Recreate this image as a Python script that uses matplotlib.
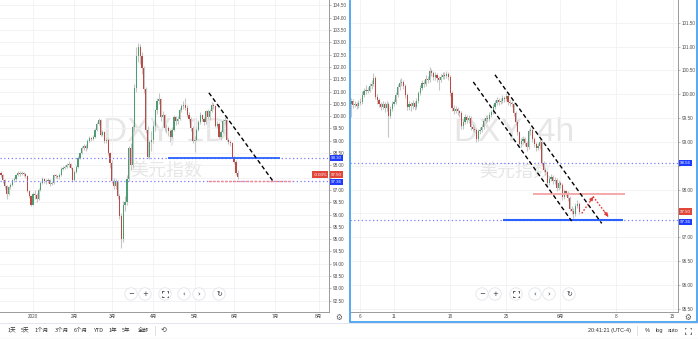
import matplotlib
matplotlib.use("Agg")
import matplotlib.pyplot as plt
from matplotlib.ticker import MultipleLocator, FuncFormatter
from matplotlib.patches import Circle, Rectangle

plt.rcParams['font.family'] = ['Liberation Sans', 'Noto Sans CJK SC', 'DejaVu Sans']

# ---------------- data: daily DXY (left panel) ----------------
left_first_open = 97.70
left_close = [97.60, 97.40, 97.15, 96.85, 97.10, 97.20, 97.40, 97.45, 97.60, 97.70,
              97.65, 97.70, 97.65, 97.55, 96.95, 96.75, 96.40,
              96.85, 96.80, 96.65, 97.00, 97.30, 97.45, 97.35, 97.38, 97.40, 97.25,
              97.30, 97.60, 97.55, 97.52, 97.60, 97.85, 97.90, 97.95, 98.00, 98.05, 97.90, 97.40,
              97.75, 97.95, 98.30, 98.50, 98.70, 98.80, 98.70, 99.00, 99.10, 99.08,
              99.15, 99.45, 99.70, 99.85, 99.25, 99.35, 99.00, 99.05, 98.50, 98.10,
              97.35, 97.15, 97.35, 96.75, 95.95, 95.00, 96.40, 96.50, 97.45, 98.70, 98.00,
              99.55, 101.15, 102.45, 102.80, 102.45, 101.95, 101.10, 99.45, 98.35, 98.95, 99.05,
              99.60, 100.25, 100.60, 100.70, 99.95, 100.05, 99.50, 99.52, 99.40, 99.15, 99.45,
              99.95, 99.80, 99.90, 100.25, 100.40, 100.45, 100.35, 100.05, 99.90, 99.50, 99.00,
              99.05, 99.45, 99.75, 100.05, 99.90, 99.75, 100.20, 99.95, 100.20, 100.45, 100.40,
              99.60, 99.70, 99.15, 99.35, 99.80, 99.85, 99.05, 98.95, 98.90, 98.35,
              98.15, 97.70, 97.52]
left_high = [97.78, 97.66, 97.45, 97.20, 97.18, 97.28, 97.46, 97.52, 97.66, 97.78,
             97.76, 97.76, 97.74, 97.70, 97.60, 97.00, 96.80,
             96.92, 96.98, 96.88, 97.06, 97.36, 97.52, 97.50, 97.45, 97.48, 97.46,
             97.36, 97.66, 97.66, 97.62, 97.68, 97.92, 97.98, 98.02, 98.08, 98.18, 98.10, 97.95,
             97.80, 98.02, 98.36, 98.56, 98.78, 98.88, 98.85, 99.06, 99.18, 99.16,
             99.22, 99.52, 99.76, 99.92, 99.90, 99.42, 99.40, 99.12, 99.10, 98.56,
             98.20, 97.50, 97.45, 97.40, 96.82, 96.05, 96.55, 96.75, 97.60, 98.80, 98.90,
             99.65, 101.30, 102.80, 102.99, 102.95, 102.60, 102.05, 101.20, 99.60, 99.05, 99.40,
             99.80, 100.30, 100.75, 100.93, 100.75, 100.20, 100.10, 99.70, 99.60, 99.48, 99.55,
             100.05, 100.00, 100.00, 100.35, 100.50, 100.60, 100.75, 100.45, 100.15, 99.95, 99.60,
             99.20, 99.55, 99.85, 100.15, 100.10, 99.95, 100.25, 100.30, 100.30, 100.57, 100.55,
             100.45, 99.80, 99.75, 99.45, 99.90, 99.95, 99.90, 99.10, 99.05, 98.95,
             98.40, 98.20, 97.80]
left_low = [97.52, 97.30, 97.05, 96.65, 96.80, 97.02, 97.15, 97.34, 97.40, 97.55,
            97.58, 97.60, 97.58, 97.48, 96.90, 96.68, 96.36,
            96.38, 96.62, 96.50, 96.60, 96.95, 97.25, 97.28, 97.26, 97.30, 97.18,
            97.20, 97.26, 97.48, 97.45, 97.46, 97.55, 97.80, 97.84, 97.90, 97.94, 97.84, 97.34,
            97.36, 97.70, 97.90, 98.24, 98.45, 98.62, 98.60, 98.66, 98.95, 98.98,
            99.02, 99.10, 99.40, 99.65, 99.20, 99.20, 98.92, 98.90, 98.42, 97.90,
            97.28, 97.05, 97.05, 96.65, 95.80, 94.65, 94.90, 96.15, 96.40, 97.35, 97.80,
            97.90, 99.40, 101.00, 102.20, 102.10, 101.70, 100.95, 99.30, 98.30, 98.25, 98.60,
            98.90, 99.40, 100.10, 100.50, 99.80, 99.60, 99.40, 99.30, 99.20, 98.95, 99.10,
            99.40, 99.65, 99.70, 99.85, 100.15, 100.30, 100.25, 99.95, 99.80, 99.40, 98.90,
            98.55, 99.00, 99.40, 99.70, 99.80, 99.65, 99.70, 99.90, 99.85, 100.15, 100.30,
            99.55, 99.50, 99.10, 99.05, 99.30, 99.70, 98.98, 98.85, 98.80, 98.30,
            98.05, 97.60, 97.45]
left_tick_pos = [17, 39, 59, 81, 103, 124, 146, 169]
left_tick_labels = ['2020', '2月', '3月', '4月', '5月', '6月', '7月', '8月']

# ---------------- data: 4h DXY (right panel) ----------------
right_first_open = 99.80
right_close = [99.85, 99.78, 99.80, 99.76, 99.82, 99.84, 99.98, 100.06, 100.10, 100.08,
               100.18, 100.22, 100.34, 99.95, 99.88, 99.80, 99.74, 99.80, 99.72, 99.80,
               99.55, 99.70, 99.80, 99.84, 99.98, 100.16, 100.24, 100.26, 100.18, 99.98,
               99.74, 99.80, 99.76, 99.82, 99.74, 99.86, 100.02, 100.14, 100.24, 100.22,
               100.32, 100.30, 100.48, 100.44, 100.36, 100.40, 100.34, 100.30, 100.36, 100.40,
               100.38, 100.42, 100.36, 100.02, 99.72, 99.66, 99.70, 99.64, 99.60, 99.34,
               99.42, 99.52, 99.46, 99.50, 99.32, 99.28, 99.26, 99.06, 99.22, 99.26,
               99.32, 99.44, 99.50, 99.48, 99.56, 99.62, 99.74, 99.82, 99.88, 99.84,
               99.86, 99.92, 99.90, 99.96, 99.84, 99.82, 99.80, 99.60, 99.42, 99.20,
               98.96, 99.02, 99.06, 98.98, 98.90, 99.22, 99.26, 99.06, 98.96, 98.88,
               98.92, 99.00, 98.56, 98.42, 98.36, 98.14, 98.22, 98.26, 98.18, 98.20,
               98.04, 98.14, 98.10, 97.84, 97.96, 97.92, 97.82, 97.60, 97.56, 97.48,
               97.66, 97.70, 97.52]
right_high = [99.92, 99.90, 99.86, 99.84, 99.88, 99.92, 100.06, 100.14, 100.20, 100.16,
              100.24, 100.30, 100.44, 100.38, 100.00, 99.92, 99.84, 99.86, 99.84, 99.86,
              99.84, 99.76, 99.86, 99.90, 100.04, 100.22, 100.32, 100.34, 100.30, 100.22,
              100.02, 99.86, 99.84, 99.88, 99.86, 99.92, 100.08, 100.20, 100.30, 100.30,
              100.40, 100.38, 100.57, 100.54, 100.48, 100.46, 100.44, 100.38, 100.42, 100.46,
              100.46, 100.48, 100.46, 100.40, 100.06, 99.78, 99.76, 99.74, 99.68, 99.64,
              99.48, 99.58, 99.56, 99.56, 99.54, 99.38, 99.34, 99.30, 99.28, 99.32,
              99.38, 99.50, 99.56, 99.56, 99.62, 99.68, 99.80, 99.88, 99.94, 99.92,
              99.92, 99.98, 99.96, 100.02, 100.00, 99.88, 99.86, 99.84, 99.64, 99.46,
              99.24, 99.08, 99.12, 99.10, 99.02, 99.28, 99.32, 99.30, 99.10, 99.00,
              98.98, 99.06, 99.04, 98.60, 98.48, 98.40, 98.28, 98.32, 98.30, 98.26,
              98.24, 98.20, 98.18, 98.14, 98.02, 98.00, 97.96, 97.86, 97.66, 97.62,
              97.72, 97.78, 97.74]
right_low = [99.52, 99.72, 99.74, 99.70, 99.72, 99.78, 99.80, 99.94, 100.00, 100.02,
             100.04, 100.12, 100.18, 99.90, 99.80, 99.74, 99.68, 99.70, 99.62, 99.66,
             99.10, 99.50, 99.66, 99.76, 99.80, 99.94, 100.10, 100.18, 100.12, 99.92,
             99.68, 99.68, 99.64, 99.70, 99.68, 99.70, 99.82, 99.98, 100.10, 100.16,
             100.18, 100.24, 100.26, 100.38, 100.30, 100.30, 100.26, 100.10, 100.26, 100.32,
             100.32, 100.34, 100.30, 99.96, 99.66, 99.58, 99.60, 99.56, 99.52, 99.28,
             99.28, 99.38, 99.40, 99.40, 99.26, 99.22, 99.20, 99.00, 99.02, 99.16,
             99.20, 99.28, 99.40, 99.42, 99.44, 99.52, 99.58, 99.70, 99.78, 99.78,
             99.80, 99.82, 99.84, 99.86, 99.78, 99.76, 99.74, 99.54, 99.36, 99.14,
             98.90, 98.90, 98.96, 98.92, 98.82, 98.86, 99.14, 99.00, 98.90, 98.82,
             98.84, 98.86, 98.50, 98.36, 98.30, 98.08, 98.10, 98.18, 98.12, 98.12,
             97.98, 98.00, 98.04, 97.78, 97.80, 97.86, 97.76, 97.54, 97.48, 97.40,
             97.44, 97.62, 97.48]
right_tick_pos = [5, 23, 53, 83, 112, 142, 172]
right_tick_labels = ['6', '11', '18', '25', '6月', '8', '15']

# drawn levels / trend lines (bar index, price)
left_levels_dotted = [98.30, 97.36]
left_support = (88.8, 148.4, 98.30)
left_target = (110.0, 154.8, 97.36)
left_trend_x = [110.6, 144.7]
left_trend_y = [100.95, 97.36]
left_last, left_chg = 97.50, '-0.03%'

right_levels_dotted = [98.56, 97.36]
right_support = (81.3, 145.5, 97.36)
right_resist = (97.3, 146.5, 97.90)
chan1_x, chan1_y = [65.4, 118.0], [100.26, 97.34]
chan2_x, chan2_y = [77.0, 134.1], [100.41, 97.29]
path_x = [123.4, 129.6, 137.6]
path_y = [97.50, 97.85, 97.43]
right_last = 97.50

# price-scale ticks hidden behind the coloured price boxes
left_hidden_ticks = [97.50]
right_hidden_ticks = [97.50, 98.50]

UP, DN, WICK = '#4f9b72', '#bb4a42', '#c6c6c6'
W, H = 698, 339

fig = plt.figure(figsize=(W / 100, H / 100), dpi=100)
fig.patch.set_facecolor('white')

axL = fig.add_axes([0 / W, (H - 312) / H, 329 / W, 312 / H])
axR = fig.add_axes([350 / W, (H - 312) / H, 328 / W, 312 / H])


def candles(ax, first_open, closes, highs, lows, width):
    opens = [first_open] + closes[:-1]
    idx = list(range(len(closes)))
    ax.vlines(idx, lows, highs, color=WICK, lw=0.8, zorder=2)
    cols = [UP if c >= o else DN for o, c in zip(opens, closes)]
    bottoms = [min(o, c) for o, c in zip(opens, closes)]
    heights = [max(abs(c - o), 0.02) for o, c in zip(opens, closes)]
    ax.bar(idx, heights, bottom=bottoms, width=width, color=cols, lw=0, zorder=3)


def style(ax, ylim, xlim, tpos, tlab, hidden):
    ax.set_xlim(*xlim)
    ax.set_ylim(*ylim)
    ax.set_axisbelow(True)
    ax.yaxis.tick_right()
    ax.yaxis.set_major_locator(MultipleLocator(0.5))
    ax.yaxis.set_major_formatter(FuncFormatter(
        lambda v, p: '' if any(abs(v - h) < 1e-6 for h in hidden) else f'{v:.2f}'))
    ax.tick_params(axis='y', length=1.6, width=0.4, color='#8a8a8a', pad=1.3,
                   labelsize=3.3, labelcolor='#4a4a4a')
    ax.set_xticks(tpos)
    ax.set_xticklabels(tlab)
    ax.tick_params(axis='x', length=0, pad=1.6, labelsize=3.3, labelcolor='#4a4a4a')
    ax.grid(True, color='#f1f1f4', lw=0.6)
    for s in ['top', 'left']:
        ax.spines[s].set_visible(False)
    for s in ['right', 'bottom']:
        ax.spines[s].set_color('#9a9a9a')
        ax.spines[s].set_linewidth(0.7)


def price_label(ax, y, text, color, side='right', dy=0.0):
    tr = ax.get_yaxis_transform()
    off = 1.2 if side == 'right' else -1.2
    ax.annotate(text, xy=(1, y), xycoords=tr, xytext=(off, dy), textcoords='offset points',
                ha='left' if side == 'right' else 'right', va='center', fontsize=3.2,
                color='white', zorder=20, annotation_clip=False,
                bbox=dict(boxstyle='square,pad=0.25', fc=color, ec='none'))


# ---- left panel ----
candles(axL, left_first_open, left_close, left_high, left_low, 0.62)
style(axL, (92.04, 104.72), (-0.53, 174.5), left_tick_pos, left_tick_labels, left_hidden_ticks)
axL.text(0.505, 0.577, 'DXY, 1D', transform=axL.transAxes, fontsize=24, color='#e6e6e6',
         ha='center', va='center', zorder=0.5)
axL.text(0.505, 0.452, '美元指数', transform=axL.transAxes, fontsize=13, color='#e6e6e6',
         ha='center', va='center', zorder=0.5, family=['Noto Sans CJK SC'])
for lv in left_levels_dotted:
    axL.axhline(lv, color='#7d7dff', lw=0.9, ls=(0, (1, 2)), zorder=4)
axL.hlines(left_support[2], left_support[0], left_support[1], color='#2962ff', lw=1.3, zorder=5)
axL.hlines(left_target[2], left_target[0], left_target[1], color='#f08a8a', lw=1.0,
           ls=(0, (2, 1)), zorder=5)
axL.plot(left_trend_x, left_trend_y, color='black', lw=1.0, ls=(0, (3, 2)), zorder=6)
price_label(axL, 98.30, '98.30', '#1d3cff')
price_label(axL, left_last, '97.50', '#e0473a', dy=2.2)
price_label(axL, 97.36, '97.36', '#1d3cff', dy=-0.8)
price_label(axL, left_last, left_chg, '#e0473a', side='left', dy=2.2)

# ---- right panel ----
candles(axR, right_first_open, right_close, right_high, right_low, 0.62)
style(axR, (95.43, 101.98), (-0.53, 174.9), right_tick_pos, right_tick_labels, right_hidden_ticks)
axR.text(0.5, 0.577, 'DXY, 4h', transform=axR.transAxes, fontsize=24, color='#e6e6e6',
         ha='center', va='center', zorder=0.5)
axR.text(0.503, 0.449, '美元指数', transform=axR.transAxes, fontsize=13, color='#e6e6e6',
         ha='center', va='center', zorder=0.5, family=['Noto Sans CJK SC'])
for lv in right_levels_dotted:
    axR.axhline(lv, color='#7d7dff', lw=0.9, ls=(0, (1, 2)), zorder=4)
axR.hlines(right_support[2], right_support[0], right_support[1], color='#2962ff', lw=1.5, zorder=5)
axR.hlines(right_resist[2], right_resist[0], right_resist[1], color='#f4a3a3', lw=1.3, zorder=5)
axR.plot(chan1_x, chan1_y, color='black', lw=1.0, ls=(0, (3, 2)), zorder=6)
axR.plot(chan2_x, chan2_y, color='black', lw=1.0, ls=(0, (3, 2)), zorder=6)
axR.plot(path_x, path_y, color='#e53935', lw=1.0, ls=(0, (1.2, 1.2)), zorder=7)
for k in (1, 2):
    x0, y0 = path_x[k - 1], path_y[k - 1]
    x1, y1 = path_x[k], path_y[k]
    axR.annotate('', xy=(x1, y1), xytext=(x1 - (x1 - x0) * 0.25, y1 - (y1 - y0) * 0.25),
                 arrowprops=dict(arrowstyle='-|>', color='#e53935', lw=0.8,
                                 mutation_scale=5, shrinkA=0, shrinkB=0), zorder=8)
price_label(axR, 98.56, '98.56', '#1d3cff')
price_label(axR, right_last, '97.50', '#e0473a', dy=1.3)
price_label(axR, 97.36, '97.36', '#1d3cff', dy=-1.3)

# ---- UI overlay (pixel coordinates) ----
ov = fig.add_axes([0, 0, 1, 1], zorder=10)
ov.set_xlim(0, W)
ov.set_ylim(H, 0)
ov.axis('off')
ov.patch.set_alpha(0)

# toolbar strip
ov.add_patch(Rectangle((0, 322.5), W, 16.5, fc='white', ec='none'))
ov.plot([0, W], [322.5, 322.5], color='#e0e3eb', lw=0.6)
ov.plot([0, W], [338.5, 338.5], color='#e6e6e6', lw=1)
# right panel blue frame
ov.add_patch(Rectangle((349.8, -2), 347.4, 324.2, fill=False, ec='#4aa3f0', lw=1.3))


def fullscreen_icon(cx, cy, s=2.6, arm=1.1, color='#3a3a3a'):
    # four corner brackets (glyph not available in installed fonts)
    for sx in (-1, 1):
        for sy in (-1, 1):
            x, y = cx + sx * s, cy + sy * s
            ov.plot([x - sx * arm, x, x], [y, y, y - sy * arm], color=color, lw=0.6,
                    solid_capstyle='butt')


# zoom buttons
btnL = [(131, '−'), (145, '+'), (165, None), (184, '‹'), (199, '›'), (219, '↻')]
btnR = [(482, '−'), (495, '+'), (516, None), (535, '‹'), (549, '›'), (569, '↻')]
for bx, sym in btnL + btnR:
    ov.add_patch(Circle((bx, 294), 6.2, fc='white', ec='#e3e5ea', lw=0.6))
    if sym is None:
        fullscreen_icon(bx, 294)
    else:
        ov.text(bx, 294.3, sym, ha='center', va='center', fontsize=5, color='#3a3a3a',
                family=['DejaVu Sans'])

# gear icons
for gx, gy in [(339, 317.5), (688, 317.5)]:
    ov.text(gx, gy, '⚙', ha='center', va='center', fontsize=5.5, color='#555555',
            family=['DejaVu Sans'])

# bottom toolbar texts
tb = [(12, '1天'), (25, '5天'), (42, '1个月'), (62, '3个月'), (81, '6个月'), (99, 'YTD'),
      (113, '1年'), (126, '5年'), (143, '全部')]
for tx, t in tb:
    ov.text(tx, 330.5, t, ha='center', va='center', fontsize=4, color='#333333',
            family=['Noto Sans CJK SC', 'DejaVu Sans'])
ov.plot([155, 155], [326, 335], color='#dddddd', lw=0.6)
ov.text(164, 330.5, '⟲', ha='center', va='center', fontsize=5, color='#444444',
        family=['DejaVu Sans'])
ov.text(610, 330.5, '20:41:21 (UTC-4)', ha='center', va='center', fontsize=4, color='#333333')
ov.plot([637, 637], [326, 335], color='#dddddd', lw=0.6)
ov.text(647, 330.5, '%', ha='center', va='center', fontsize=4, color='#333333')
ov.text(659, 330.5, 'log', ha='center', va='center', fontsize=4, color='#333333')
ov.text(673, 330.5, 'auto', ha='center', va='center', fontsize=4, color='#333333')
fullscreen_icon(688, 330.5, s=3.0, arm=1.3, color='#555555')

fig.savefig('out.png', dpi=100, facecolor='white')
